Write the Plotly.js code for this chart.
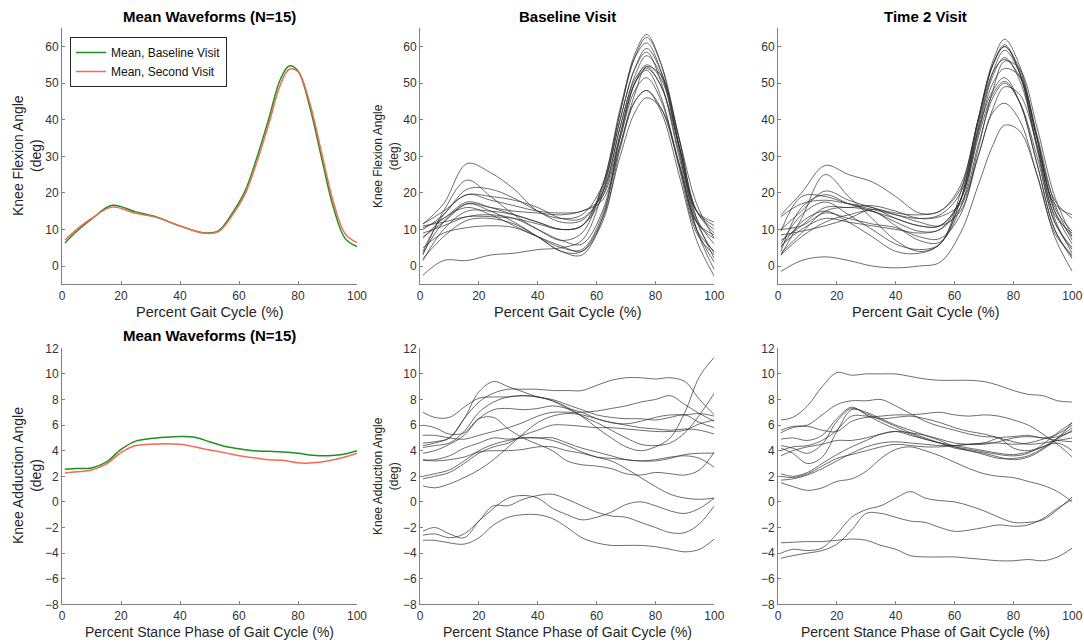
<!DOCTYPE html>
<html><head><meta charset="utf-8">
<script src="https://cdn.plot.ly/plotly-3.0.1.min.js"></script>
<style>html,body{margin:0;padding:0;background:#fff}</style></head>
<body><div id="chart" style="width:1084px;height:642px"></div>
<script>
// ---------- DATA ----------
const flexMeanX = [1,5,10,17,25,32,40,48,53,58,62,66,70,74,77,80,84,88,92,96,100];
const meanFlexBaseline = [6.3,9.5,12.8,16.6,14.8,13.4,10.9,9.1,9.6,14.8,20.4,29.5,40,51,54.7,53.3,43.5,29.5,16,7.5,5.3];
const meanFlexSecond   = [7.1,10,13,16.1,14.4,13.3,11,9,9.4,14.2,19.6,28.3,38.6,49.5,53.8,53.2,44.5,31,17.5,8.8,6.4];

const flexX = [1,8,16,24,32,40,48,55,62,68,73,77,82,88,94,100];
const flexBaseline = [
  [11.5,17,28,25.5,21,15,13,14,22,40,54,58.5,50,30,12,8.5],
  [3,15,23.5,19,14,10,7,9,22,42,58,63.3,55,33,13,6],
  [10,14,21,21,18.5,15,12,12.5,20,38,51,54.5,49,33,15,11],
  [4,14,19.5,18,16.5,15,14.5,15,19,35,48,51.5,45,28,10,4],
  [8,12,17,16,15,14.5,14,15,18,33,45,48,43,28,12,7.5],
  [-2.5,1.5,1.5,3,3.5,4.5,5,7,20,40,54,59.5,53,35,15,10],
  [10.5,13,17.5,16,14,12,10,11,21,42,57,62.5,55,35,15,9],
  [11,12,13.5,13.5,13,11.5,10,11,19,36,50,54,49,31,12,3.5],
  [9,11,13.5,14,13,10,7,6,15,35,50,55,51,33,15,12],
  [7.5,13,16,14,11,8,5,4.5,14,33,47,54.5,52,35,17,7.5],
  [2,8,12.5,13,11.5,8,4,4,13,30,42,46,43,28,10,1],
  [5,9,10.5,11,10.5,8,5.5,4,12,32,45,48,42,25,7,-2.8],
  [11.5,15,19.5,19,18,16,13,13,20,38,52,57.5,52,33,13,2],
  [1.5,10,15,15,14,12,10,11,22,43,57,61,53,32,10,-1],
  [3.5,12,17,15,12,8,4,3,13,36,50,53.5,46,27,9,3]
];
const flexTime2 = [
  [14,20,27.5,25,23,19,14.5,15,22,40,55,60.5,53,33,14,9],
  [3,13,25,19,13,7,4,6,20,40,56,62,55,35,15,8],
  [-1.5,1.5,2.5,1.5,0,-0.5,0,1,9,22,33,38.5,37,25,8,-1.5],
  [10,15,20.5,18,16,14.5,14,15,21,40,55,60,54,35,17,14],
  [9.5,19,19,17,15.5,14,13,14,20,39,53,56.5,52,35,18,13],
  [5.5,10,13,12,11,10,9,10,16,30,42,44.5,40,25,9,3],
  [7,11,16,16,16.5,15,13,13.5,17,33,46,50,45,30,12,5],
  [13.5,17,18,17,16,13,11,11,18,38,53,59,53,35,16,9.5],
  [8.5,9.5,11,13,15.5,14,12,11,15,30,43,49,47,33,15,6],
  [3.5,9,15,16,15,12,9.5,10,18,36,50,54,52,36,17,7],
  [6,14,17.5,14,10,6,4.5,6,18,40,55,60,53,32,12,4.5],
  [5,12,15,12,8,4,3.5,6,18,37,48,51.5,45,28,10,2.5],
  [10,11,14.5,13,11.5,10.5,8,7.5,14,32,48,56,54,38,19,8],
  [4,16,19.5,17,15,13,11,11,18,37,52,57,51,33,13,3.5],
  [3,8,12,14,15,11,7,6.5,16,35,47,50.5,45,28,10,2]
];

const addX = [1,5,10,15,20,25,30,35,40,45,50,55,60,65,70,75,80,85,90,95,100];
const meanAddBaseline = [2.55,2.6,2.65,3.1,4.1,4.75,4.95,5.05,5.1,5.05,4.7,4.35,4.15,4.0,3.95,3.9,3.8,3.65,3.6,3.7,4.0];
const meanAddSecond   = [2.25,2.35,2.5,2.95,3.85,4.4,4.5,4.55,4.5,4.3,4.05,3.85,3.6,3.45,3.3,3.25,3.05,3.05,3.2,3.45,3.8];
const addBaseline = [
  [7.0,6.6,6.6,7.4,8.1,8.2,8.2,8.3,8.2,7.9,7.3,6.7,6.2,5.6,5.0,4.5,4.4,4.6,5.4,6.8,8.5],
  [6.0,5.8,5.3,5.4,6.5,6.6,5.7,5.0,4.5,4.0,3.2,2.9,2.8,2.6,2.2,2.1,2.3,2.2,2.1,2.5,3.9],
  [5.2,5.2,5.0,4.9,5.2,5.5,5.8,6.2,6.7,7.0,7.0,7.0,7.1,7.3,7.5,7.8,8.0,8.3,7.6,6.9,6.3],
  [4.6,4.7,5.0,6.5,8.6,9.4,9.0,8.6,8.2,8.0,7.6,7.2,6.8,6.6,6.5,6.5,6.4,6.6,6.8,6.2,5.8],
  [4.4,4.6,5.0,6.5,7.8,8.5,8.8,8.8,8.8,8.7,8.7,8.7,9.1,9.5,9.7,9.7,9.6,9.7,9.4,8.0,6.8],
  [4.25,4.4,4.6,5.5,7.0,7.8,8.2,8.3,8.2,7.9,7.4,6.7,5.8,5.0,4.3,4.0,4.3,5.0,7.0,9.8,11.3],
  [3.8,4.0,4.5,5.2,6.5,7.2,7.3,7.2,7.3,7.5,7.3,7.0,6.5,6.2,6.0,5.8,5.7,5.6,5.7,5.6,5.3],
  [3.3,3.2,3.3,3.5,3.9,4.0,4.0,4.1,4.3,4.3,4.0,3.8,3.5,3.4,3.3,3.2,3.3,3.5,3.6,3.4,2.7],
  [3.25,3.3,3.6,4.2,4.6,5.0,4.9,5.0,5.0,5.0,4.6,4.2,3.9,3.6,3.3,3.2,3.2,3.4,3.7,3.8,3.8],
  [2.0,2.2,2.5,3.2,4.0,4.5,4.8,5.0,5.0,4.8,4.4,3.9,3.5,3.2,2.6,1.9,1.2,0.6,0.3,0.2,0.3],
  [1.8,2.0,2.3,3.0,3.8,4.3,4.6,5.2,5.6,6.0,6.0,5.9,5.8,5.8,5.7,5.6,5.5,5.5,5.6,6.1,6.4],
  [1.25,1.1,1.4,1.9,2.5,3.3,4.3,5.3,6.2,6.7,6.9,6.8,6.5,6.2,6.1,6.3,6.6,6.8,6.8,6.9,6.7],
  [-2.3,-2.0,-2.5,-2.8,-1.5,-0.3,-0.3,0.2,0.5,0.6,0.2,-0.3,-0.8,-1.1,-1.2,-1.6,-2.0,-2.4,-2.4,-1.7,-0.3],
  [-2.6,-2.5,-2.8,-2.5,-1.5,-0.5,0.3,0.5,0.3,-0.5,-1.0,-1.4,-1.2,-0.8,-0.2,0.0,-0.3,-0.7,-0.9,-0.5,0.3],
  [-3.0,-3.0,-3.2,-3.3,-2.8,-1.8,-1.2,-1.0,-1.0,-1.3,-2.0,-2.8,-3.2,-3.4,-3.4,-3.4,-3.5,-3.7,-3.9,-3.7,-2.9]
];
const addTime2 = [
  [6.4,6.6,7.5,9.0,10.1,9.9,10.0,10.0,10.0,9.8,9.6,9.5,9.5,9.5,9.4,9.1,8.7,8.4,8.3,7.9,7.8],
  [5.6,5.9,6.0,6.8,7.6,7.9,7.9,8.0,7.5,6.9,6.3,5.9,5.6,5.3,5.1,5.0,4.2,4.0,4.3,4.6,4.0],
  [5.4,5.8,5.9,5.6,5.5,6.3,6.6,6.7,6.8,6.8,6.9,7.0,6.8,6.7,6.8,6.7,6.4,6.0,5.3,4.5,3.5],
  [4.9,5.0,4.8,5.2,6.5,7.4,6.8,6.2,5.7,5.3,4.9,4.6,4.4,4.2,4.0,3.8,3.7,3.9,4.3,5.0,6.2],
  [4.4,4.2,3.8,4.5,6.3,7.3,6.9,6.4,5.9,5.4,5.0,4.6,4.2,4.0,3.7,3.4,3.4,3.6,4.2,5.0,5.8],
  [4.2,3.8,3.0,3.5,5.5,7.2,7.0,6.5,6.0,5.6,5.2,4.8,4.3,4.0,3.8,3.5,3.3,3.5,4.1,4.9,5.6],
  [4.0,4.3,4.4,4.8,5.6,6.7,6.7,6.5,6.6,6.7,6.5,6.2,5.8,5.5,5.3,5.0,4.7,4.5,4.6,4.8,5.0],
  [3.6,4.0,4.3,4.5,4.8,4.8,5.0,5.3,5.5,5.4,5.2,4.9,4.6,4.5,4.5,4.7,5.0,5.1,5.0,4.8,4.7],
  [2.2,2.0,2.3,3.0,3.7,4.3,4.8,5.3,5.5,5.2,4.9,4.6,4.3,4.1,3.9,3.7,3.6,3.8,4.5,5.4,6.2],
  [2.0,1.9,2.2,2.8,3.4,3.7,4.0,4.3,4.5,4.4,4.3,4.3,4.4,4.5,4.6,5.0,5.1,5.2,5.0,5.1,5.5],
  [1.7,1.8,2.1,2.6,3.2,3.8,4.3,4.6,4.7,4.6,4.5,4.4,4.4,4.5,4.6,4.6,4.5,4.6,4.9,5.3,6.0],
  [1.5,1.2,0.9,1.1,1.6,1.8,2.4,3.4,4.1,4.3,4.0,3.6,3.1,2.6,2.2,2.0,1.9,1.6,1.3,0.8,0.0],
  [-3.2,-3.15,-3.1,-3.1,-3.0,-2.9,-3.0,-3.4,-3.7,-4.2,-4.3,-4.3,-4.3,-4.4,-4.5,-4.6,-4.6,-4.5,-4.6,-4.3,-3.6],
  [-4.0,-3.7,-3.8,-3.6,-2.5,-1.2,-0.6,-0.3,0.3,0.8,0.3,0.1,0.0,-0.3,-0.7,-1.2,-1.6,-1.6,-1.4,-0.6,0.4],
  [-4.4,-4.2,-4.0,-3.8,-3.3,-2.2,-0.9,-0.9,-1.2,-1.5,-1.6,-2.0,-2.3,-2.2,-2.0,-1.8,-1.9,-1.8,-1.3,-0.5,0.2]
];

const titlesTop = ['Mean Waveforms (N=15)', 'Baseline Visit', 'Time 2 Visit'];
const titleBottomLeft = 'Mean Waveforms (N=15)';
const xTitleTop = 'Percent Gait Cycle (%)';
const xTitleBottom = 'Percent Stance Phase of Gait Cycle (%)';
const yTitleFlex = 'Knee Flexion Angle<br>(deg)';
const yTitleAdd = 'Knee Adduction Angle<br>(deg)';
const legendNames = ['Mean, Baseline Visit', 'Mean, Second Visit'];

// ---------- STYLE ----------
const W = 1084, H = 642;
const FONT = 'Liberation Sans, Arial, Helvetica, sans-serif';
const GREEN = '#1f8f1f', RED = '#f26b55', INK = '#262626', AXC = '#808080';
const colX = [[62, 357], [420, 714.3], [778, 1072.3]];
const rowY = [[28.3, 284.3], [348.3, 604.3]];
const px = v => v / W, py = v => 1 - v / H;

const traces = [];
function addSubjects(xs, list, ax) {
  list.forEach(ys => traces.push({
    x: xs, y: ys, type: 'scatter', mode: 'lines', xaxis: 'x' + ax, yaxis: 'y' + ax,
    line: {color: '#2e2e2e', width: 0.7, shape: 'spline', smoothing: 1},
    showlegend: false, hoverinfo: 'skip'
  }));
}
function addMean(xs, ys, ax, color, name, show) {
  traces.push({
    x: xs, y: ys, type: 'scatter', mode: 'lines', xaxis: 'x' + ax, yaxis: 'y' + ax,
    name: name, legendgroup: name, showlegend: show,
    line: {color: color, width: 1.5, shape: 'spline', smoothing: 1}
  });
}
addMean(flexMeanX, meanFlexBaseline, '', GREEN, legendNames[0], true);
addMean(flexMeanX, meanFlexSecond, '', RED, legendNames[1], true);
addSubjects(flexX, flexBaseline, '2');
addSubjects(flexX, flexTime2, '3');
addMean(addX, meanAddBaseline, '4', GREEN, legendNames[0], false);
addMean(addX, meanAddSecond, '4', RED, legendNames[1], false);
addSubjects(addX, addBaseline, '5');
addSubjects(addX, addTime2, '6');

const layout = {
  width: W, height: H, margin: {l: 0, r: 0, t: 0, b: 0},
  paper_bgcolor: '#fff', plot_bgcolor: '#fff',
  font: {family: FONT, color: INK},
  showlegend: true,
  legend: {x: px(70), y: py(37), xanchor: 'left', yanchor: 'top',
    bgcolor: '#fff', bordercolor: INK, borderwidth: 1,
    font: {family: FONT, size: 12, color: '#111'}, tracegroupgap: 0},
  annotations: []
};
const axBase = {showline: true, linecolor: AXC, linewidth: 1, ticks: 'inside', ticklen: 3,
  tickcolor: AXC, showgrid: false, zeroline: false, mirror: false, fixedrange: true,
  tickfont: {family: FONT, size: 12, color: '#333'}};
for (let r = 0; r < 2; r++) {
  for (let c = 0; c < 3; c++) {
    const i = r * 3 + c + 1;
    const k = i === 1 ? '' : String(i);
    layout['xaxis' + k] = Object.assign({}, axBase, {
      domain: [px(colX[c][0]), px(colX[c][1])], anchor: 'y' + k,
      range: [0, 100], tickvals: [0, 20, 40, 60, 80, 100]
    });
    layout['yaxis' + k] = Object.assign({}, axBase, r === 0 ? {
      range: [-5, 65], tickvals: [0, 10, 20, 30, 40, 50, 60]
    } : {
      range: [-8, 12], tickvals: [-8, -6, -4, -2, 0, 2, 4, 6, 8, 10, 12]
    }, {domain: [py(rowY[r][1]), py(rowY[r][0])], anchor: 'x' + k});
  }
}
function ann(text, x, y, size, extra) {
  layout.annotations.push(Object.assign({text: text, x: x, y: y, xref: 'paper', yref: 'paper',
    xanchor: 'center', yanchor: 'middle', showarrow: false,
    font: {family: FONT, size: size, color: INK}}, extra || {}));
}
const TF = {family: FONT, size: 15, color: '#000'};
titlesTop.forEach((t, c) => ann('<b>' + t + '</b>', px((colX[c][0] + colX[c][1]) / 2), py(17), 15, {font: TF}));
ann('<b>' + titleBottomLeft + '</b>', px((colX[0][0] + colX[0][1]) / 2), py(336), 15, {font: TF});
for (let c = 0; c < 3; c++) {
  ann(xTitleTop, px((colX[c][0] + colX[c][1]) / 2), py(312), 14.5);
  ann(xTitleBottom, px((colX[c][0] + colX[c][1]) / 2), py(632), 14);
}
ann(yTitleFlex, px(27), py(156), 14, {textangle: -90});
ann(yTitleFlex, px(386), py(156), 12, {textangle: -90});
ann(yTitleAdd, px(27), py(476), 14, {textangle: -90});
ann(yTitleAdd, px(386), py(476), 12, {textangle: -90});

Plotly.newPlot('chart', traces, layout, {staticPlot: true, displayModeBar: false});
</script>
</body></html>
